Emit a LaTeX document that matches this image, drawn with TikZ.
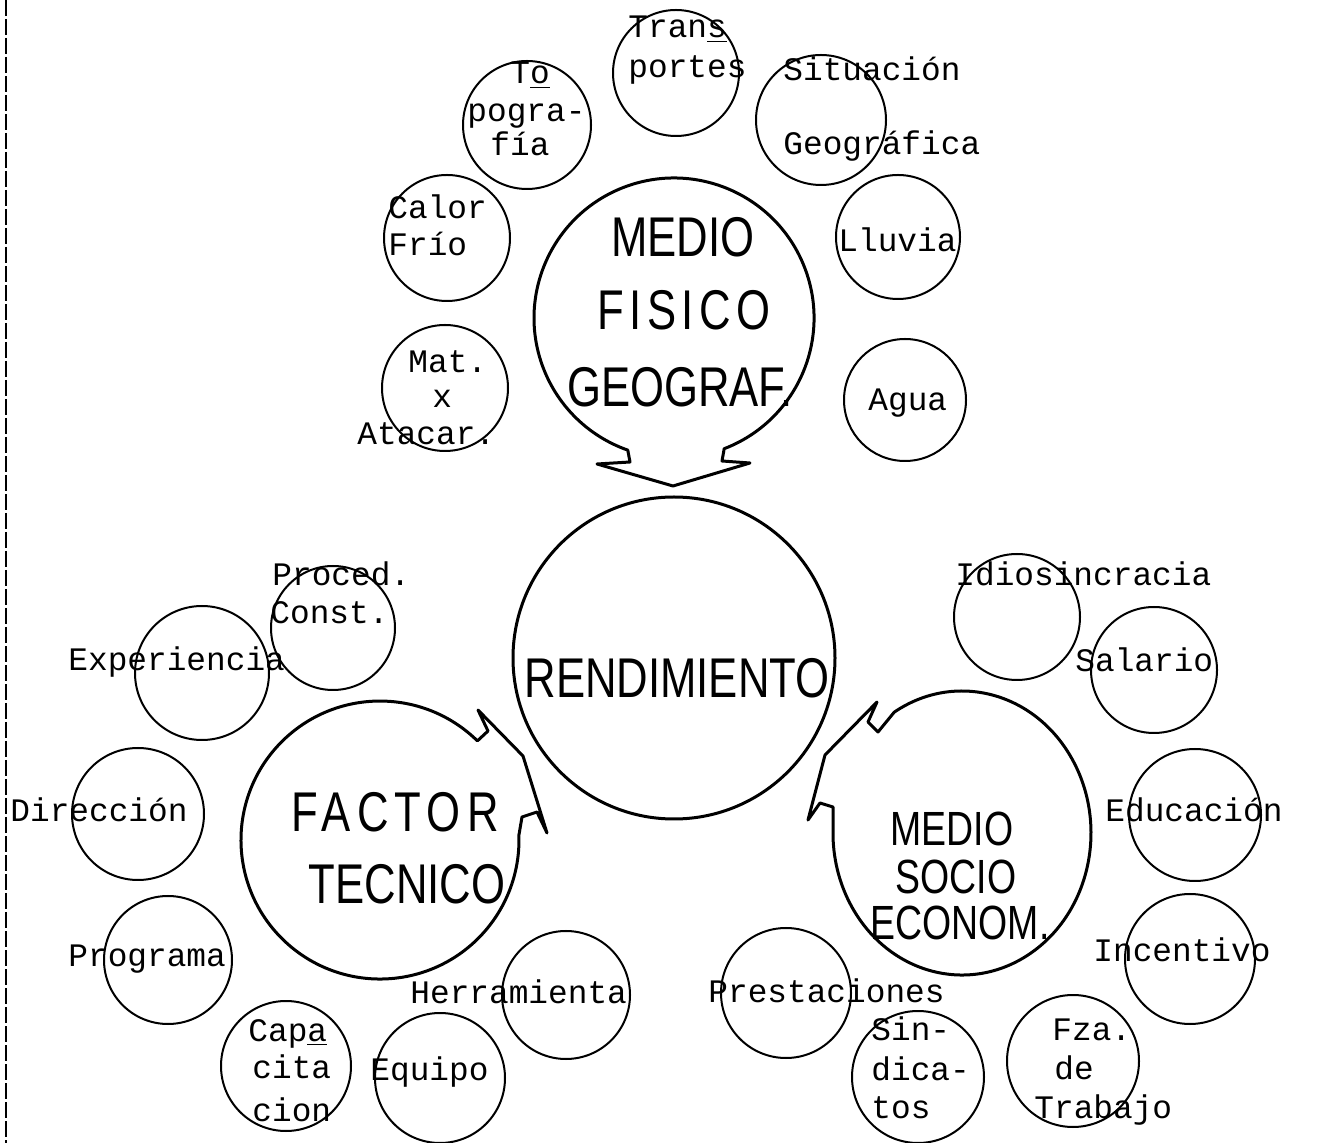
\documentclass[tikz,border=0pt]{standalone}
\usepackage{fontspec}
\setmainfont{Liberation Serif}
\newfontfamily\tw{Liberation Mono}
\newfontfamily\bigsf{Liberation Sans}[FakeStretch=0.78]
\begin{document}
\begin{tikzpicture}[x=0.5pt,y=0.5pt,
  sc/.style={circle,draw,line width=1pt,inner sep=0pt},
  lbl/.style={anchor=base west,inner sep=0pt,font={\tw\fontsize{16.4}{19}\selectfont}},
  big/.style={anchor=base,inner sep=0pt,text height=20pt,text depth=0pt,font={\bigsf\fontsize{28}{34}\selectfont}},
  bigs/.style={anchor=base,inner sep=0pt,text height=17pt,text depth=0pt,font={\bigsf\fontsize{24}{30}\selectfont}},
  outl/.style={line width=1.5pt,line join=round}]
\useasboundingbox (0,0) rectangle (1323,-1143);
% scan border
\draw[line width=1pt,dash pattern=on 8pt off 1.5pt] (6,0) -- (6,-1143);

% ---------- MEDIO FISICO group ----------
\node[sc,minimum size=63pt] (ctrans) at (676,-73) {};
\node[lbl] (ttransa) at (628,-38) {Tran\underline{s}};
\node[lbl] (ttransb) at (628,-78) {portes};

\node[sc,minimum size=64pt] (ctopo) at (527,-125) {};
\node[lbl] (ttopoa) at (510,-84) {T\underline{o}};
\node[lbl] (ttopob) at (467,-122) {pogra-};
\node[lbl] (ttopoc) at (490,-156) {fía};

\node[sc,minimum size=65pt] (csit) at (821,-120) {};
\node[lbl] (tsita) at (783,-81) {Situación};
\node[lbl] (tsitb) at (783,-155) {Geográfica};

\node[sc,minimum size=63pt] (ccalor) at (447,-238) {};
\node[lbl] (tcalora) at (388,-219) {Calor};
\node[lbl] (tcalorb) at (388,-256) {Frío};

\node[sc,minimum size=62pt] (clluvia) at (898,-237) {};
\node[lbl] (tlluvia) at (838,-252) {Lluvia};

\node[sc,minimum size=63pt] (cmat) at (445,-388) {};
\node[lbl] (tmata) at (408,-373) {Mat.};
\node[lbl] (tmatb) at (432,-408) {x};
\node[lbl] (tmatc) at (357,-445) {Atacar.};

\node[sc,minimum size=61pt] (cagua) at (905,-400) {};
\node[lbl] (tagua) at (868,-411) {Agua};

\draw[outl] (724.2,-448.7) arc[start angle=-69,end angle=250.7,radius=140]
  -- (630,-462) -- (597,-464) -- (673,-486) -- (750,-463) -- (722,-461) -- cycle;
\node[big] (fisa) at (683,-257) {MEDIO};
\node[big] (fisb) at (684,-330) {\addfontfeature{LetterSpace=10}FISICO};
\node[big] (fisc) at (680,-407) {GEOGRAF.};

% ---------- RENDIMIENTO ----------
\node[sc,line width=1.5pt,minimum size=161pt] (crend) at (674,-658) {};
\node[big] (trend) at (677,-698) {RENDIMIENTO};

% ---------- FACTOR TECNICO group ----------
\node[sc,minimum size=62pt] (cproc) at (333,-628) {};
\node[lbl] (tproca) at (272,-586) {Proced.};
\node[lbl] (tprocb) at (270,-624) {Const.};

\node[sc,minimum size=67pt] (cexp) at (202,-673) {};
\node[lbl] (texp) at (68,-671) {Experiencia};

\node[sc,minimum size=66pt] (cdir) at (138,-814) {};
\node[lbl] (tdir) at (10,-822) {Dirección};

\node[sc,minimum size=64pt] (cprog) at (168,-960) {};
\node[lbl] (tprog) at (68,-966) {Programa};

\node[sc,minimum size=65pt] (ccapa) at (286,-1066) {};
\node[lbl] (tcapaa) at (248,-1041) {Cap\underline{a}};
\node[lbl] (tcapab) at (252,-1078) {cita};
\node[lbl] (tcapac) at (252,-1121) {cion};

\node[sc,minimum size=65pt] (cequipo) at (440,-1078) {};
\node[lbl] (tequipo) at (370,-1080) {Equipo};

\node[sc,minimum size=64pt] (cherr) at (566,-995) {};
\node[lbl] (therr) at (410,-1003) {Herramienta};

\draw[outl] (477.4,-740.9) arc[start angle=45.5,end angle=362,radius=139]
  -- (522,-817) -- (537,-812) -- (547,-833) -- (523,-756) -- (478,-710) -- (488,-731) -- cycle;
\node[big] (facta) at (395,-832) {\addfontfeature{LetterSpace=11}FACTOR};
\node[big] (factb) at (407,-904) {TECNICO};

% ---------- MEDIO SOCIO ECONOM group ----------
\node[sc,minimum size=63pt] (cidio) at (1017,-617) {};
\node[lbl] (tidio) at (955,-586) {Idiosincracia};

\node[sc,minimum size=63pt] (csal) at (1154,-670) {};
\node[lbl] (tsal) at (1075,-672) {Salario};

\node[sc,minimum size=66pt] (cedu) at (1195,-815) {};
\node[lbl] (tedu) at (1105,-822) {Educación};

\node[sc,minimum size=65pt] (cinc) at (1190,-959) {};
\node[lbl] (tinc) at (1093,-961) {Incentivo};

\node[sc,minimum size=65pt] (cpres) at (786,-993) {};
\node[lbl] (tpres) at (708,-1002) {Prestaciones};

\node[sc,minimum size=66pt] (csind) at (918,-1077) {};
\node[lbl] (tsinda) at (871,-1040) {Sin-};
\node[lbl] (tsindb) at (871,-1080) {dica-};
\node[lbl] (tsindc) at (871,-1118) {tos};

\node[sc,minimum size=66pt] (cfza) at (1073,-1061) {};
\node[lbl] (tfzaa) at (1052,-1040) {Fza.};
\node[lbl] (tfzab) at (1054,-1079) {de};
\node[lbl] (tfzac) at (1034,-1118) {Trabajo};

\draw[outl] (894.2,-712.2) arc[start angle=121.7,end angle=-178.4,x radius=129,y radius=142]
  -- (833,-807) -- (820,-803) -- (808,-820) -- (825,-755) -- (877,-702) -- (868,-722) -- (878,-732) -- cycle;
\node[bigs] (soca) at (952,-846) {MEDIO};
\node[bigs] (socb) at (956,-893) {SOCIO};
\node[bigs] (socc) at (960,-939) {ECONOM.};
\end{tikzpicture}
\end{document}
